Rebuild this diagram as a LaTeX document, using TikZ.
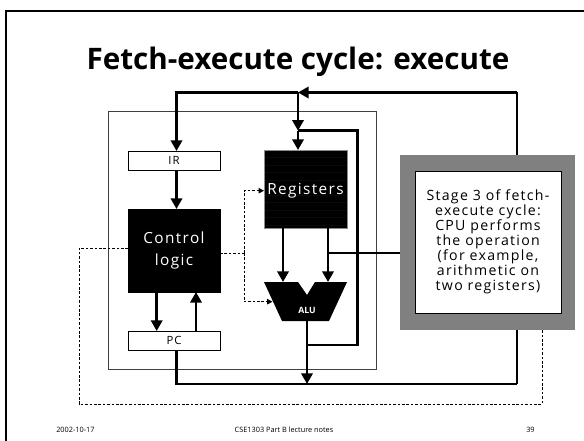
\documentclass[tikz,border=0pt]{standalone}
\usepackage{fontspec}
\setmainfont{Open Sans}
\newfontfamily\spacedfont[LetterSpace=9]{Open Sans}
\usetikzlibrary{arrows.meta}
\tikzset{
  wire/.style={line width=1.9pt},
  arr/.style={wire, -{Triangle[width=8.5pt,length=8pt]}},
  ctl/.style={line width=0.6pt, dash pattern=on 2pt off 1.3pt},
  ctlarr/.style={ctl, -{Triangle[width=4pt,length=4pt]}},
  whitebox/.style={draw=black, line width=0.5pt, fill=white, inner sep=0pt, outer sep=0pt,
    font=\spacedfont\fontsize{8.5}{10}\selectfont},
  blackbox/.style={draw=black, fill=black, text=white, inner sep=0pt, outer sep=0pt,
    align=center, font=\spacedfont\fontsize{11.5}{17}\selectfont},
}
\begin{document}
\begin{tikzpicture}[x=0.75pt,y=-0.75pt]
\useasboundingbox (0,0) rectangle (584,441);
\fill[white] (0,0) rectangle (584,441);

% slide frame and heading
\draw[line width=1.5pt] (6,441) -- (6,11) -- (590,11);
\node[anchor=base, inner sep=0pt] (title) at (298,70)
  {\fontsize{22.2}{26}\selectfont\bfseries Fetch-execute cycle: execute};

% CPU outline
\node[draw=black!75, line width=0.6pt, minimum width=201pt, minimum height=193pt,
  inner sep=0pt, outer sep=0pt] (cpu) at (242,240.5) {};

% registers and control unit
\node[whitebox, minimum width=69pt, minimum height=14.25pt] (ir) at (174,160.5) {IR};
\node[blackbox, minimum width=69pt, minimum height=62.25pt] (ctrl) at (174,250.5) {Control\\logic};
\node[whitebox, minimum width=69pt, minimum height=14.25pt] (pc) at (174,340.5) {PC};
\node[blackbox, draw=black!45, line width=0.5pt, minimum width=62.25pt, minimum height=58.5pt]
  (regs) at (305.5,189) {};
\foreach \yy in {157.5,165,172.5,180,195,202.5,210,217.5,225}
  \draw[black!96!white, line width=0.3pt] (265,\yy) -- (346,\yy);
\node[text=white, inner sep=0pt, font=\spacedfont\fontsize{11.5}{14}\selectfont] (regsl) at (305.5,190.5) {Registers};

% ALU
\fill[black] (264,282) -- (298,282) -- (307,295) -- (315,282) -- (347,282)
  -- (329,321) -- (282,321) -- cycle;
\node[text=white, inner sep=0pt, font=\fontsize{6.5}{8}\selectfont\bfseries] (alu) at (307,310) {ALU};
\coordinate (alua) at (283,282);
\coordinate (alub) at (328,282);
\coordinate (aluin) at (272.5,301.7);
\coordinate (aluout) at (307,321);

% junctions of the wiring
\coordinate (bus) at (298,92.5);
\coordinate (busl) at (176.5,92.5);
\coordinate (busr) at (517,92.5);
\coordinate (wb) at (298,130.7);
\coordinate (wbr) at (357.7,130.7);
\coordinate (res) at (307,345);
\coordinate (resr) at (357.7,345);
\coordinate (low) at (307,384);
\coordinate (lowl) at (176.5,384);
\coordinate (lowr) at (517,384);
\coordinate (opb) at (328,253);
\coordinate (cs) at (244,253);
\coordinate (csr) at (244,190.7);
\coordinate (csa) at (244,301.7);
\coordinate (dl) at (79,248);
\coordinate (dlb) at (79,404);
\coordinate (drb) at (542,404);

% data paths
\draw[arr] (busr) -- (bus);
\draw[arr] (bus) -- (busl) -- (ir.north -| busl);
\draw[arr] (bus) -- (wb);
\draw[arr] (wb) -- (regs.north -| wb);
\draw[arr] (ir.south -| busl) -- (ctrl.north -| busl);
\draw[arr] (ctrl.south -| 156.7,0) -- (pc.north -| 156.7,0);
\draw[arr] (pc.north -| 196,0) -- (ctrl.south -| 196,0);
\draw[arr] (regs.south -| alua) -- (alua);
\draw[arr] (regs.south -| alub) -- (alub);
\draw[arr] (aluout) -- (low);
\draw[wire] (res) -- (resr) -- (wbr) -- (wb);
\draw[wire] (pc.south -| lowl) -- (lowl) -- (lowr);

% control signals
\draw[ctl] (ctrl.east |- cs) -- (cs);
\draw[ctlarr] (cs) -- (csr) -- (regs.west |- csr);
\draw[ctlarr] (cs) -- (csa) -- (aluin);
\draw[ctl] (ctrl.west |- dl) -- (dl) -- (dlb) -- (drb) -- (542,330);

% explanation panel
\draw[wire] (517,330) -- (lowr);
\draw[wire] (517,155) -- (busr);
\draw[wire] (400,253) -- (opb);
\node[fill=black!50, minimum width=131.25pt, minimum height=131.25pt, inner sep=0pt]
  (panel) at (487.5,242.5) {};
\node[draw=black, line width=0.5pt, fill=white, minimum width=109.5pt, minimum height=106.5pt,
  inner sep=0pt, align=center, font=\spacedfont\fontsize{10.6}{11.25}\selectfont] (note) at (488,242)
  {Stage 3 of fetch-\\execute cycle:\\CPU performs\\the operation\\(for example,\\arithmetic on\\two registers)};

% footer
\node[anchor=base west, inner sep=0pt, font=\fontsize{5.5}{7}\selectfont] (date) at (56,432) {2002-10-17};
\node[anchor=base, inner sep=0pt, font=\fontsize{5.5}{7}\selectfont] (course) at (284,432) {CSE1303 Part B lecture notes};
\node[anchor=base west, inner sep=0pt, font=\fontsize{5.5}{7}\selectfont] (page) at (526,432) {39};
\end{tikzpicture}
\end{document}
